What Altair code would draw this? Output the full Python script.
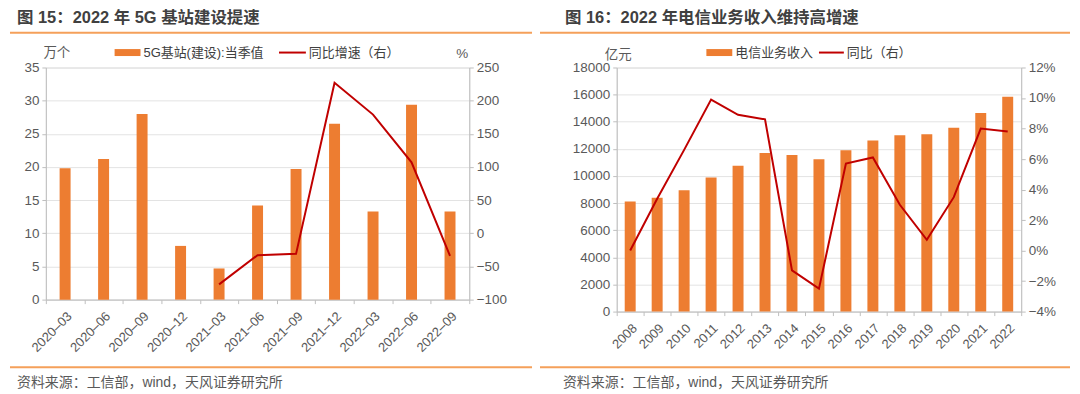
import altair as alt
import pandas as pd

FONT = "Liberation Sans, Arial, Noto Sans CJK SC, sans-serif"
BAR_C = "#ED7D31"
LINE_C = "#C00000"
RULE_C = "#F5A05A"
TXT_C = "#595959"
TITLE_C = "#404040"
GRID_C = "#E3E3E3"
AX_C = "#BFBFBF"

# ---------- Panel 1 data ----------
q_labels = ["2020–03", "2020–06", "2020–09", "2020–12", "2021–03", "2021–06",
            "2021–09", "2021–12", "2022–03", "2022–06", "2022–09"]
bs_values = [19.8, 21.2, 28.0, 8.1, 4.7, 14.2, 19.7, 26.5, 13.3, 29.4, 13.3]
bs_growth = [None, None, None, None, -77, -33, -31, 227, 179, 107, -34]

# ---------- Panel 2 data ----------
years = ["2008", "2009", "2010", "2011", "2012", "2013", "2014", "2015",
         "2016", "2017", "2018", "2019", "2020", "2021", "2022"]
rev_values = [8120, 8400, 8950, 9880, 10760, 11690, 11540, 11240,
              11890, 12620, 13010, 13080, 13550, 14650, 15850]
rev_growth = [0.0, 3.4, 6.6, 9.9, 8.9, 8.6, -1.3, -2.5,
              5.7, 6.1, 3.0, 0.7, 3.5, 8.0, 7.8]


def txt(s, x, y, size=13, color=TXT_C, align="left", weight="normal"):
    return alt.Chart(pd.DataFrame({"t": [s]})).mark_text(
        align=align, baseline="middle", font=FONT, fontSize=size,
        color=color, fontWeight=weight
    ).encode(x=alt.value(x), y=alt.value(y), text="t:N")


def hrule(x1, x2, y, color, width):
    return alt.Chart(pd.DataFrame({"a": [0]})).mark_rule(
        color=color, strokeWidth=width
    ).encode(x=alt.value(x1), x2=alt.value(x2), y=alt.value(y))


def panel(cats, vals, growth, w, h, bar_size, y_dom, y_vals, y2_dom, y2_vals,
          y2_label_expr, title, x_title_off, rule_x1, rule_x2,
          leg, unit_left, unit_right, source_x):
    df = pd.DataFrame({"cat": cats, "val": vals, "g": growth})
    xenc = alt.X("cat:N", sort=None,
                 scale=alt.Scale(domain=cats, paddingInner=0, paddingOuter=0),
                 axis=alt.Axis(title=None, labelAngle=-45, labelAlign="right",
                               labelBaseline="top", tickBand="extent",
                               labelOverlap=False, labelLimit=200,
                               labelFont=FONT, labelFontSize=13, labelColor=TXT_C,
                               domainColor=AX_C, tickColor=AX_C, tickSize=4,
                               labelPadding=6))
    bars = alt.Chart(df).mark_bar(color=BAR_C, size=bar_size).encode(
        x=xenc,
        y=alt.Y("val:Q", scale=alt.Scale(domain=y_dom, nice=False, zero=False),
                axis=alt.Axis(title=None, values=y_vals, grid=True, gridColor=GRID_C,
                              format="d",
                              domainColor=AX_C, tickColor=AX_C, tickSize=4,
                              labelFont=FONT, labelFontSize=13.5, labelColor=TXT_C,
                              labelPadding=3)),
    )
    y2_axis = dict(title=None, values=y2_vals, grid=False, orient="right",
                   format="d",
                   domainColor=AX_C, tickColor=AX_C, tickSize=4,
                   labelFont=FONT, labelFontSize=13.5, labelColor=TXT_C,
                   labelPadding=3)
    if y2_label_expr:
        y2_axis["labelExpr"] = y2_label_expr
    line = alt.Chart(df).mark_line(color=LINE_C, strokeWidth=2).encode(
        x=xenc,
        y=alt.Y("g:Q", scale=alt.Scale(domain=y2_dom, nice=False, zero=False),
                axis=alt.Axis(**y2_axis)),
    )
    (sw1a, sw1b, t1x, t1, sw2a, sw2b, t2x, t2, ly) = leg
    deco = [
        txt(title, x_title_off, -50, size=16.5, color=TITLE_C, weight="bold"),
        hrule(rule_x1, rule_x2, -35, RULE_C, 2),
        hrule(sw1a, sw1b, ly, BAR_C, 7),
        txt(t1, t1x, ly, size=13, color=TITLE_C),
        hrule(sw2a, sw2b, ly, LINE_C, 2),
        txt(t2, t2x, ly, size=13, color=TITLE_C),
        txt(unit_left[0], unit_left[1], unit_left[2], size=13.5, align="center"),
        hrule(rule_x1, rule_x2, 301, RULE_C, 2),
        txt("资料来源：工信部，wind，天风证券研究所", source_x, 317, size=14),
    ]
    if unit_right:
        deco.append(txt(unit_right[0], unit_right[1], unit_right[2], size=13.5,
                        align="center"))
    return alt.layer(bars, line, *deco).resolve_scale(y="independent").properties(
        width=w, height=h)


left = panel(q_labels, bs_values, bs_growth, 425, 233, 11,
             [0, 35], list(range(0, 36, 5)), [-100, 250], list(range(-100, 251, 50)),
             None, "图 15：2022 年 5G 基站建设提速", -29, -36, 488,
             (69, 95, 98, "5G基站(建设):当季值", 234, 261, 264, "同比增速（右）", -15),
             ("万个", 11, -15), ("%", 418, -14), -29)

right = panel(years, rev_values, rev_growth, 406, 245, 11,
              [0, 18000], list(range(0, 18001, 2000)), [-4, 12], list(range(-4, 13, 2)),
              "format(datum.value, 'd') + '%'", "图 16：2022 年电信业务收入维持高增速",
              -52, -77, 455,
              (90, 116, 119, "电信业务收入", 203, 228, 231, "同比（右）", -15),
              ("亿元", 1.5, -13), None, -54)

chart = alt.hconcat(left, right, spacing=148, bounds="flush").properties(
    padding=0
).configure_view(stroke=None).configure(background="white")

chart.save("out.html", embed_options={"renderer": "svg", "actions": False})
